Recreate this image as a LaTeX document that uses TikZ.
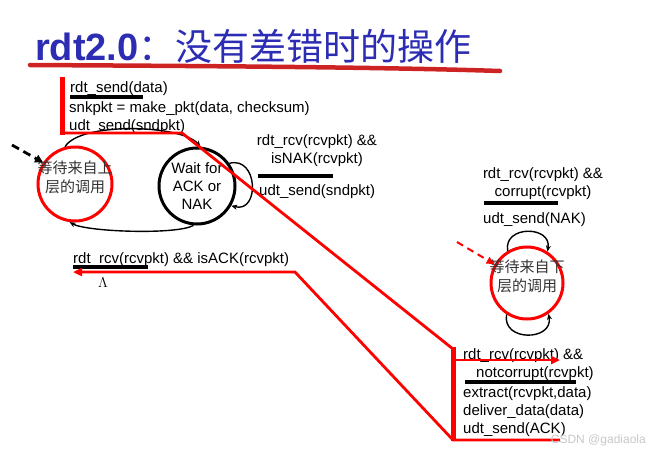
\documentclass[tikz,border=0pt]{standalone}
\usepackage{fontspec}
\setmainfont{Liberation Sans}
\newfontfamily\cjk{Noto Sans CJK SC}
\usetikzlibrary{arrows.meta}

\definecolor{titleblue}{RGB}{45,45,180}
\definecolor{brushred}{RGB}{205,35,35}
\definecolor{markgray}{RGB}{200,200,200}
\newcommand{\fsm}{\fontsize{15}{18}\selectfont}

\tikzset{
  redcirc/.style={circle, draw=red, line width=3pt, minimum size=74pt, inner sep=0pt},
  blkcirc/.style={circle, draw=black, line width=3pt, minimum size=76pt, inner sep=0pt},
  lbl/.style={font=\fsm, inner sep=0pt},
  cjklbl/.style={font=\fontsize{15}{19}\selectfont\cjk, text=black!80, align=center, inner sep=0pt},
  trans/.style={line width=1.4pt, -{Stealth[length=6pt,width=5pt]}},
  bar/.style={line width=3.5pt},
  hilite/.style={red, line width=2.8pt},
  hiarrow/.style={hilite, -{Triangle[length=9pt,width=8pt]}},
}

\begin{document}
\begin{tikzpicture}[x=1pt, y=1pt]
    \useasboundingbox (0,0) rectangle (652,-453);

    % title
    \node[anchor=base west, inner sep=0pt, text=titleblue] (title) at (35,-60)
      {{\fontsize{38}{40}\selectfont\bfseries rdt2.0}{\fontsize{37}{40}\selectfont\cjk ：没有差错时的操作}};
    \draw[brushred, line width=4.5pt, line cap=round] (30,-65) .. controls (200,-66) and (380,-67) .. (500,-71);

    % sender
    \node[redcirc] (sndwait) at (75,-184) {};
    \node[cjklbl] (sndtxt) at (75,-177) {等待来自上\\层的调用};
    \node[blkcirc] (ackwait) at (197,-186) {};
    \node[lbl, align=center] (acktxt) at (197,-186) {Wait for\\ACK or\\NAK};

    \coordinate (sndin) at (12,-145);
    \draw[line width=2.8pt, dash pattern=on 8pt off 5pt, -{Triangle[length=8pt,width=8pt]}] (sndin) -- (sndwait.146);
    \draw[trans] (sndwait.105) to[out=60,in=130,looseness=0.55] (ackwait.85);
    \draw[trans] (ackwait.265) to[out=-150,in=-30,looseness=0.4] (sndwait.262);
    \draw[trans] (ackwait.35) to[out=15,in=-15,looseness=1.8] (ackwait.-30);

    \node[lbl, anchor=base west] (sndev) at (70,-92) {rdt\_send(data)};
    \draw[bar] (70,-97) -- (143,-97);
    \node[lbl, anchor=base west, align=left] (sndact) at (69,-130)
      {snkpkt = make\_pkt(data, checksum)\\udt\_send(sndpkt)};

    \node[lbl, anchor=base, align=center] (nakev) at (317,-163) {rdt\_rcv(rcvpkt) \&\&\\isNAK(rcvpkt)};
    \draw[bar] (258,-176) -- (333,-176);
    \node[lbl, anchor=base west] (nakact) at (259,-195) {udt\_send(sndpkt)};

    \node[lbl, anchor=base west] (ackev) at (73,-263) {rdt\_rcv(rcvpkt) \&\& isACK(rcvpkt)};
    \draw[bar] (73,-267) -- (148,-267);
    \node[font=\fontsize{14}{16}\selectfont, inner sep=0pt] (ackact) at (103,-283) {$\Lambda$};

    % receiver
    \node[redcirc, minimum size=72pt] (rcvwait) at (527,-283) {};
    \node[cjklbl] (rcvtxt) at (527,-276) {等待来自下\\层的调用};

    \coordinate (rcvin) at (457,-242);
    \draw[red, line width=2pt, dash pattern=on 7pt off 5pt, -{Triangle[length=8pt,width=7pt]}] (rcvin) -- (rcvwait.150);
    \draw[trans] (rcvwait.121) to[out=100,in=80,looseness=1.7] (rcvwait.57);
    \draw[trans] (rcvwait.237) to[out=-100,in=-80,looseness=1.7] (rcvwait.305);

    \node[lbl, anchor=base, align=center] (corev) at (543,-196) {rdt\_rcv(rcvpkt) \&\&\\corrupt(rcvpkt)};
    \draw[bar] (484,-203) -- (558,-203);
    \node[lbl, anchor=base west] (coract) at (483,-223) {udt\_send(NAK)};

    \node[lbl, anchor=base west, align=left] (okev) at (463,-377)
      {rdt\_rcv(rcvpkt) \&\&\\\hspace*{13pt}notcorrupt(rcvpkt)};
    \draw[bar] (465,-382) -- (576,-382);
    \node[lbl, anchor=base west, align=left] (okact) at (463,-433)
      {extract(rcvpkt,data)\\deliver\_data(data)\\udt\_send(ACK)};

    % highlighted path
    \draw[hilite] (62,-133) -- (182,-133) -- (453,-349);
    \draw[red, line width=5pt] (62,-77) -- (62,-135);
    \draw[red, line width=5pt] (453,-347) -- (453,-441);
    \draw[hiarrow] (453,-360) -- (560,-360);
    \draw[hiarrow] (560,-440) -- (453,-440) -- (295,-272) -- (73,-272);

    \node[font=\fontsize{12}{14}\selectfont, text=markgray, anchor=east, inner sep=0pt] (mark) at (646,-440) {CSDN @gadiaola};
\end{tikzpicture}
\end{document}
